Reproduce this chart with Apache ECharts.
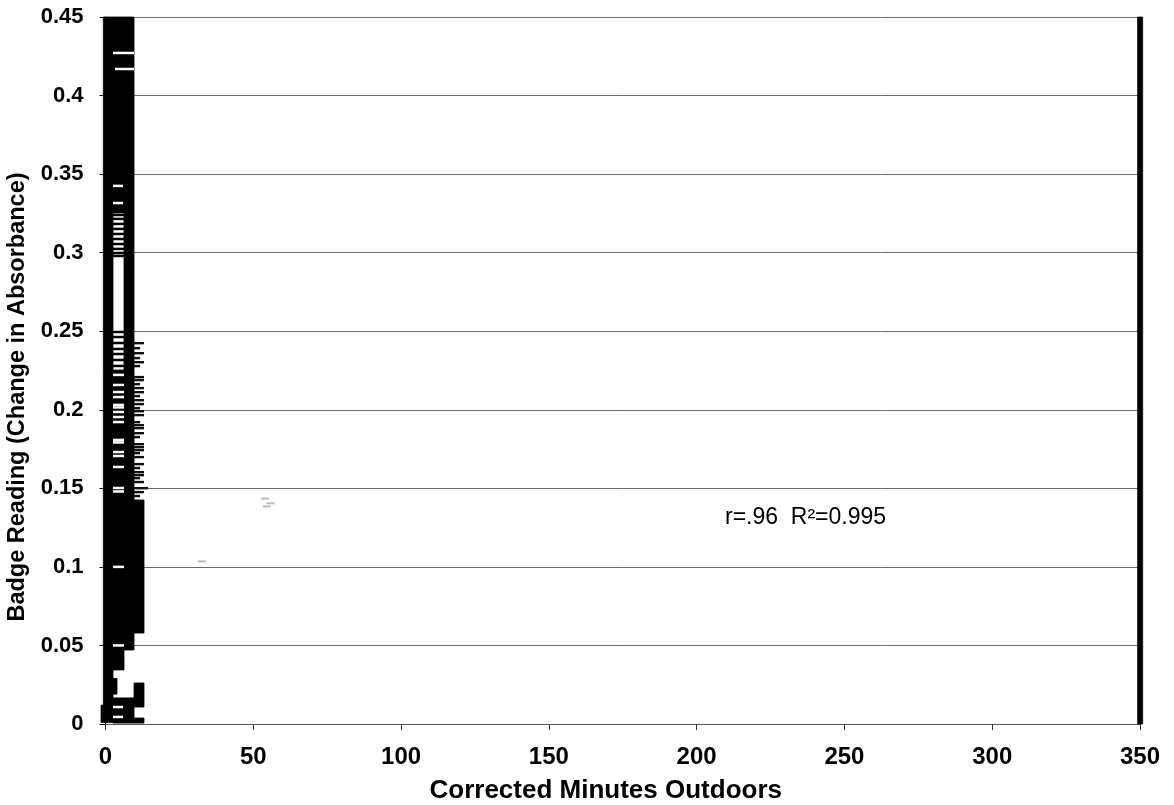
<!DOCTYPE html>
<html>
<head>
<meta charset="utf-8">
<title>Badge Reading vs Corrected Minutes Outdoors</title>
<script src="https://cdn.jsdelivr.net/npm/echarts@6/dist/echarts.min.js"></script>
<style>
  html, body { margin: 0; padding: 0; background: #fff; }
  #badge { width: 1174px; height: 805px; }
</style>
</head>
<body>
<div id="badge"></div>
<script>
var badgechart = echarts.init(document.getElementById('badge'));

// axis ranges (minutes outdoors, change in absorbance)
var xRange = [0, 350, 50];
var yRange = [0, 0.45, 0.05];

// solid dark areas of the scanned marks: [x0, x1, y0, y1]
var solidBlocks = [
  [-0.74, 2.54, 0.001, 0.45],
  [-1.52, -0.74, 0.001, 0.012],
  [2.54, 6.26, 0.3253, 0.45],
  [2.54, 6.26, 0.0344, 0.2253],
  [6.26, 9.65, 0.0471, 0.45],
  [9.65, 13.03, 0.0579, 0.1426],
  [9.65, 13.03, 0.0108, 0.0261],
  [2.54, 9.65, 0.0006, 0.0166],
  [9.65, 13.03, 0.0006, 0.0038],
  [2.54, 3.9, 0.019, 0.029],
  [349.2, 350.9, 0, 0.45]
];

// light gaps inside the dark column: [x0, x1, y]
var gapLines = [
  [2.54, 9.65, 0.4271], [3.22, 9.65, 0.4169],
  [2.54, 5.92, 0.3425], [2.54, 5.92, 0.3316],
  [2.54, 6.26, 0.2222], [2.54, 6.26, 0.2158], [2.54, 6.26, 0.2113],
  [2.54, 6.26, 0.2081], [2.54, 6.26, 0.2031], [2.54, 6.26, 0.2015],
  [2.54, 6.26, 0.1986], [2.54, 6.26, 0.1954], [2.54, 6.26, 0.1922],
  [2.54, 6.26, 0.1808], [2.54, 6.26, 0.1792], [2.54, 6.26, 0.1731],
  [2.54, 6.26, 0.1706], [2.54, 6.26, 0.1636], [2.54, 6.26, 0.1502],
  [2.54, 6.26, 0.1480], [2.54, 6.26, 0.1], [2.54, 6.26, 0.05],
  [2.54, 5.92, 0.0108], [2.54, 5.92, 0.0045]
];

// dash markers in the ladder parts of the column: [x0, x1, y]
var dashMarks = [
  [2.54, 6.26, 0.3240], [2.54, 6.26, 0.3215], [2.54, 6.26, 0.3183],
  [2.54, 6.26, 0.3151], [2.54, 6.26, 0.3119], [2.54, 6.26, 0.3087],
  [2.54, 6.26, 0.3055], [2.54, 6.26, 0.3024], [2.54, 6.26, 0.2998],
  [2.54, 6.26, 0.2979],
  [2.54, 6.26, 0.2495], [2.54, 6.26, 0.2463], [2.54, 6.26, 0.2425],
  [2.54, 6.26, 0.2387], [2.54, 6.26, 0.2355], [2.54, 6.26, 0.2317],
  [2.54, 6.26, 0.2279]
];

// dash markers sticking out to the right of the column: [x0, x1, y]
var sideMarks = [
  [9.65, 13.03, 0.2424], [9.65, 11.7, 0.2392], [9.65, 13.03, 0.2360],
  [9.65, 11.7, 0.2329], [9.65, 13.03, 0.2303], [9.65, 11.7, 0.2278],
  [9.65, 13.03, 0.2208], [9.65, 13.03, 0.2189], [9.65, 11.7, 0.2163],
  [9.65, 13.03, 0.2138], [9.65, 13.03, 0.2112], [9.65, 11.7, 0.2087],
  [9.65, 13.03, 0.2061], [9.65, 13.03, 0.2036], [9.65, 11.7, 0.2010],
  [9.65, 13.03, 0.1991], [9.65, 13.03, 0.1966], [9.65, 11.7, 0.1921],
  [9.65, 13.03, 0.1902], [9.65, 13.03, 0.1883], [9.65, 13.03, 0.1851],
  [9.65, 11.7, 0.1826], [9.65, 13.03, 0.1781], [9.65, 13.03, 0.1762],
  [9.65, 13.03, 0.1743], [9.65, 11.7, 0.1724], [9.65, 13.03, 0.1699],
  [9.65, 13.03, 0.1654], [9.65, 11.7, 0.1629], [9.65, 13.03, 0.1603],
  [9.65, 13.03, 0.1584], [9.65, 11.7, 0.1565], [9.65, 13.03, 0.1540],
  [9.65, 14.4, 0.1501], [9.65, 13.03, 0.1476], [9.65, 11.7, 0.1451]
];

// faint isolated readings
var faintPoints = [[54, 0.1435], [55.8, 0.1405], [54.6, 0.1385], [32.6, 0.1035]];

var fitNote = 'r=.96  R\u00b2=0.995';

var textFont = 'Liberation Sans, Arial, sans-serif';

function blockItem(params, api){
  var a = api.coord([api.value(0), api.value(3)]);
  var b = api.coord([api.value(1), api.value(2)]);
  return {
    type: 'rect',
    shape: { x: a[0], y: a[1], width: b[0] - a[0], height: b[1] - a[1] },
    // thin stroke of the same colour closes the seams between neighbours
    style: { fill: '#000', stroke: '#000', lineWidth: 0.8 }
  };
}

function lineItem(color, thick){
  return function(params, api){
    var a = api.coord([api.value(0), api.value(2)]);
    var b = api.coord([api.value(1), api.value(2)]);
    return {
      type: 'rect',
      shape: { x: a[0], y: a[1] - thick / 2, width: b[0] - a[0], height: thick },
      style: { fill: color }
    };
  };
}

function setbadgeChart(){
  var option = {
    animation: false,
    backgroundColor: '#fff',
    grid: {
      left: 105.5,
      right: 34,
      top: 17,
      bottom: 81,
      outerBoundsMode: 'none'
    },
    xAxis: {
      type: 'value',
      min: xRange[0],
      max: xRange[1],
      interval: xRange[2],
      name: 'Corrected Minutes Outdoors',
      nameLocation: 'middle',
      nameGap: 54,
      nameTextStyle: { fontFamily: textFont, fontWeight: 'bold', fontSize: 26, color: '#000', padding: [0, 34, 0, 0] },
      axisLine: { lineStyle: { color: '#555', width: 1 } },
      axisTick: { length: 6, lineStyle: { color: '#333' } },
      axisLabel: { margin: 21, fontFamily: textFont, fontWeight: 'bold', fontSize: 24, color: '#000' },
      splitLine: { show: false }
    },
    yAxis: {
      type: 'value',
      min: yRange[0],
      max: yRange[1],
      interval: yRange[2],
      name: 'Badge Reading (Change in Absorbance)',
      nameLocation: 'middle',
      nameGap: 73,
      nameTextStyle: { fontFamily: textFont, fontWeight: 'bold', fontSize: 23.5, color: '#000', padding: [0, 53, 0, 0] },
      axisLine: { show: true, lineStyle: { color: '#000', width: 1 } },
      axisTick: { show: true, length: 6, lineStyle: { color: '#000' } },
      axisLabel: { margin: 22, fontFamily: textFont, fontWeight: 'bold', fontSize: 22, color: '#000' },
      splitLine: { show: true, lineStyle: { color: '#6a6a6a', width: 1 } }
    },
    series: [
      {
        type: 'custom',
        silent: true,
        z: 3,
        renderItem: blockItem,
        encode: { x: [0, 1], y: [2, 3] },
        data: solidBlocks
      },
      {
        type: 'custom',
        silent: true,
        z: 4,
        renderItem: lineItem('#fff', 2.5),
        encode: { x: [0, 1], y: 2 },
        data: gapLines
      },
      {
        type: 'custom',
        silent: true,
        z: 4,
        renderItem: lineItem('#000', 2.5),
        encode: { x: [0, 1], y: 2 },
        data: dashMarks
      },
      {
        type: 'custom',
        silent: true,
        z: 4,
        renderItem: lineItem('#111', 2.4),
        encode: { x: [0, 1], y: 2 },
        data: sideMarks
      },
      {
        type: 'scatter',
        silent: true,
        z: 4,
        symbol: 'rect',
        symbolSize: [8, 2],
        itemStyle: { color: '#aaa' },
        data: faintPoints
      }
    ],
    graphic: [
      {
        type: 'text',
        left: 725,
        top: 506,
        style: {
          text: fitNote,
          fontFamily: textFont,
          fontSize: 23,
          fill: '#000'
        }
      }
    ]
  };

  badgechart.setOption(option);
}

setbadgeChart();
</script>
</body>
</html>
